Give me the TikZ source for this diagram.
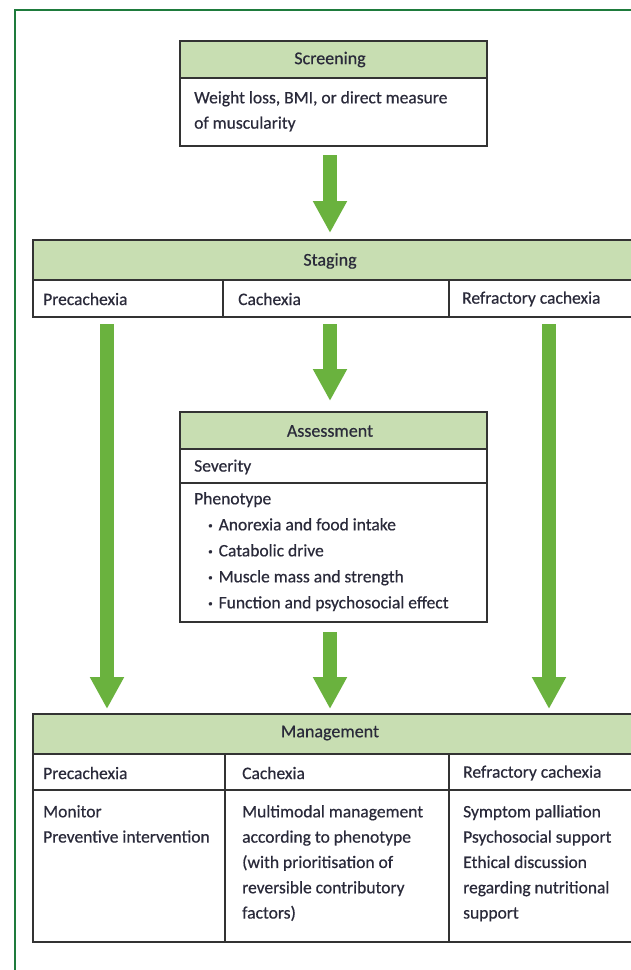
\documentclass[tikz,border=0pt]{standalone}
\usepackage{fontspec}
\setmainfont{Carlito}[FakeBold=0.5]
\usetikzlibrary{arrows.meta,calc}
\definecolor{framegreen}{HTML}{1E7B3C}
\definecolor{headfill}{HTML}{C8DEB2}
\definecolor{arrowgreen}{HTML}{6AB23E}
\definecolor{boxline}{HTML}{333333}
\definecolor{txt}{HTML}{2A2A3A}
\tikzset{
  cell/.style={draw=boxline, line width=1.6pt, anchor=north west, inner sep=0pt, outer sep=0pt, fill=white},
  head/.style={cell, fill=headfill},
  lbl/.style={anchor=west, inner sep=0pt, text=txt, font=\fontsize{17.5}{25}\selectfont},
  ctr/.style={anchor=center, inner sep=0pt, text=txt, font=\fontsize{18}{25}\selectfont},
  body/.style={anchor=north west, inner sep=0pt, text=txt, align=left, font=\fontsize{17.5}{25.3}\selectfont},
  bigarrow/.style={draw=arrowgreen, line width=14pt, -{Triangle[width=32pt,length=32pt]}}
}
\newcommand{\bul}{\hspace*{14pt}\raisebox{2pt}{\fontsize{9}{9}\selectfont\textbullet}\hspace{6pt}}
\begin{document}
\begin{tikzpicture}[x=1pt,y=-1pt]
\useasboundingbox (0,0) rectangle (631,970);
\fill[white] (0,0) rectangle (631,970);
% frame
\draw[framegreen, line width=2pt] (15,975) -- (15,10) -- (640,10);

% Screening
\node[head, minimum width=307pt, minimum height=37pt] (scrH) at (180,41) {};
\node[cell, minimum width=307pt, minimum height=68pt] (scrB) at (180,78) {};
\node[ctr] (scrT) at (330,59.5) {Screening};
\node[body] (scrBT) at (194,91) {Weight loss, BMI, or direct measure\\of muscularity};

% Staging
\node[head, minimum width=615pt, minimum height=40pt] (stgH) at (33,240) {};
\node[cell, minimum width=190pt, minimum height=37pt] (stgA) at (33,280) {};
\node[cell, minimum width=226pt, minimum height=37pt] (stgB) at (223,280) {};
\node[cell, minimum width=199pt, minimum height=37pt] (stgC) at (449,280) {};
\node[ctr] (stgT) at (330,261) {Staging};
\node[lbl] (stgAT) at (43,299) {Precachexia};
\node[lbl] (stgBT) at (238,299) {Cachexia};
\node[lbl] (stgCT) at (462,299) {Refractory cachexia};

% Assessment
\node[head, minimum width=307pt, minimum height=37pt] (asH) at (180,412) {};
\node[cell, minimum width=307pt, minimum height=34pt] (asS) at (180,449) {};
\node[cell, minimum width=307pt, minimum height=139pt] (asP) at (180,483) {};
\node[ctr] (asT) at (330,431) {Assessment};
\node[lbl] (asST) at (194,467) {Severity};
\node[body, font=\fontsize{17.5}{26}\selectfont] (asPT) at (194,492) {Phenotype\\
\bul Anorexia and food intake\\
\bul Catabolic drive\\
\bul Muscle mass and strength\\
\bul Function and psychosocial effect};

% Management
\node[head, minimum width=615pt, minimum height=40pt] (mgH) at (33,714) {};
\node[cell, minimum width=192pt, minimum height=36pt] (mgA) at (33,754) {};
\node[cell, minimum width=224pt, minimum height=36pt] (mgB) at (225,754) {};
\node[cell, minimum width=199pt, minimum height=36pt] (mgC) at (449,754) {};
\node[cell, minimum width=192pt, minimum height=152pt] (mgA2) at (33,790) {};
\node[cell, minimum width=224pt, minimum height=152pt] (mgB2) at (225,790) {};
\node[cell, minimum width=199pt, minimum height=152pt] (mgC2) at (449,790) {};
\node[ctr] (mgT) at (330,733) {Management};
\node[lbl] (mgAT) at (43,773) {Precachexia};
\node[lbl] (mgBT) at (242,773) {Cachexia};
\node[lbl] (mgCT) at (463,773) {Refractory cachexia};
\node[body] (mgA2T) at (43,805) {Monitor\\Preventive intervention};
\node[body] (mgB2T) at (242,805) {Multimodal management\\according to phenotype\\(with prioritisation of\\reversible contributory\\factors)};
\node[body] (mgC2T) at (463,805) {Symptom palliation\\Psychosocial support\\Ethical discussion\\regarding nutritional\\support};

% arrows
\coordinate (a1s) at (330,155);
\coordinate (a1e) at (330,233);
\coordinate (aLs) at (107,324);
\coordinate (aLe) at (107,709);
\coordinate (aMs) at (330,324);
\coordinate (aMe) at (330,401);
\coordinate (aRs) at (549,324);
\coordinate (aRe) at (549,709);
\coordinate (aM2s) at (330,632);
\coordinate (aM2e) at (330,709);
\draw[bigarrow] (a1s) -- (a1e);
\draw[bigarrow] (aLs) -- (aLe);
\draw[bigarrow] (aMs) -- (aMe);
\draw[bigarrow] (aRs) -- (aRe);
\draw[bigarrow] (aM2s) -- (aM2e);
\end{tikzpicture}
\end{document}
